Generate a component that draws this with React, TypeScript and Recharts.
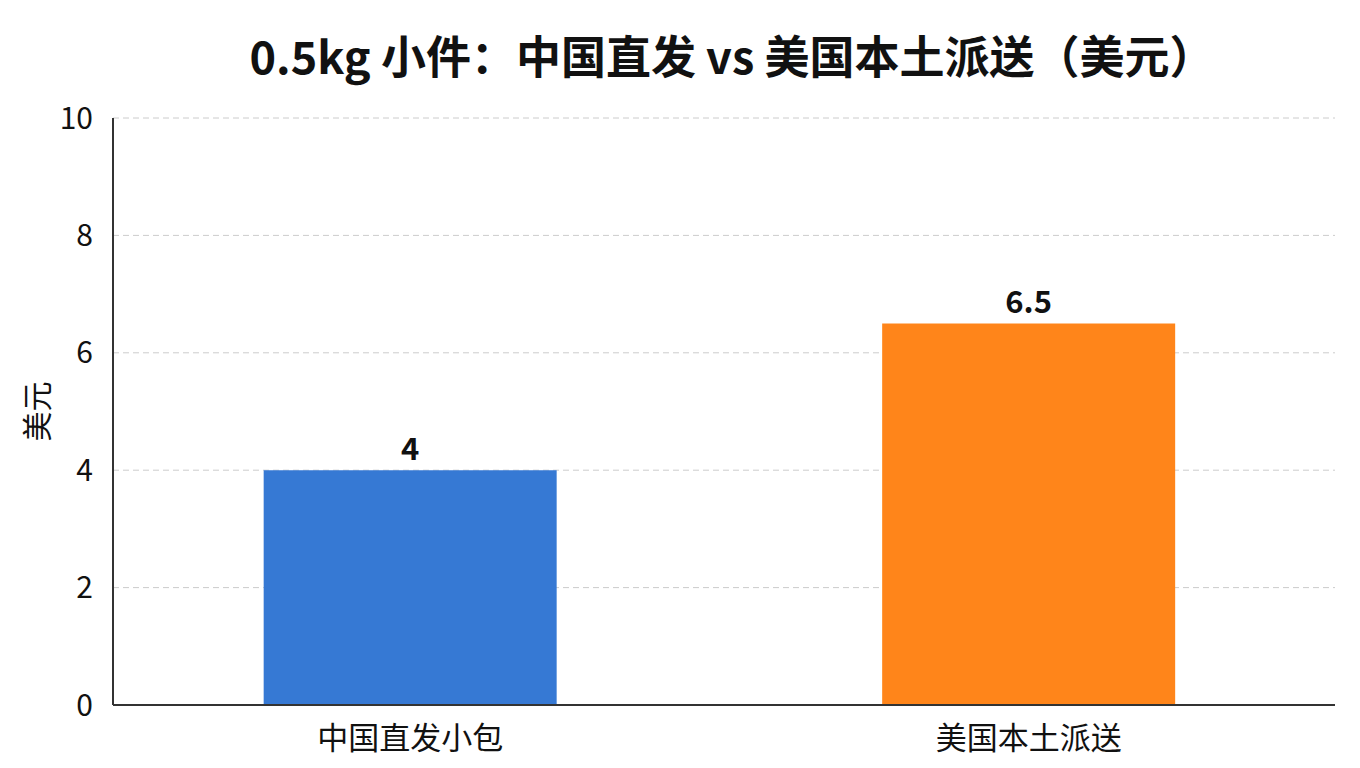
import React from "react";
import { BarChart, Bar, XAxis, YAxis, CartesianGrid, Cell, LabelList } from "recharts";

const categories = ["中国直发小包", "美国本土派送"];
const costs = [4, 6.5];
const barColors = ["#3679D4", "#FF851A"];
const yTicks = [0, 2, 4, 6, 8, 10];
const title = "0.5kg 小件：中国直发 vs 美国本土派送（美元）";
const yLabel = "美元";

const data = categories.map((name, i) => ({ name, value: costs[i] }));

const FONT = '"Noto Sans CJK SC", "Noto Sans", sans-serif';

const YLabel = (props: any) => {
  const vb = props.viewBox || {};
  const cy = (vb.y ?? 118) + (vb.height ?? 587) / 2;
  const cx = 35;
  return (
    <text
      x={cx}
      y={cy}
      transform={`rotate(-90, ${cx}, ${cy})`}
      textAnchor="middle"
      dominantBaseline="central"
      fontSize={30}
      fill="#111"
      fontFamily={FONT}
    >
      {yLabel}
    </text>
  );
};

export default function App() {
  return (
    <div style={{ position: "absolute", left: 0, top: 0, width: 1360, height: 768, background: "#ffffff", fontFamily: FONT }}>
      <div
        style={{
          position: "absolute",
          left: 121,
          width: 1222,
          top: 24,
          textAlign: "center",
          fontSize: 45,
          fontWeight: 700,
          color: "#111",
          lineHeight: "62px",
        }}
      >
        {title}
      </div>
      <BarChart
        width={1360}
        height={768}
        data={data}
        margin={{ top: 118, right: 25, bottom: 0, left: 0 }}
        barCategoryGap="26.3%"
      >
        <CartesianGrid vertical={false} stroke="#cccccc" strokeDasharray="6 4" />
        <XAxis
          dataKey="name"
          height={63}
          padding={{ left: -12, right: -3 }}
          axisLine={{ stroke: "#333", strokeWidth: 2 }}
          tickLine={false}
          tickSize={0}
          tickMargin={22}
          tick={{ fontSize: 31, fill: "#111", fontFamily: FONT }}
        />
        <YAxis
          width={113}
          domain={[0, 10]}
          ticks={yTicks}
          axisLine={{ stroke: "#333", strokeWidth: 2 }}
          tickLine={false}
          tickSize={0}
          tickMargin={20}
          tick={{ fontSize: 30, fill: "#111", fontFamily: FONT }}
          label={<YLabel />}
        />
        <Bar dataKey="value" isAnimationActive={false}>
          {data.map((d, i) => (
            <Cell key={d.name} fill={barColors[i]} />
          ))}
          <LabelList dataKey="value" position="top" offset={10} style={{ fontSize: 31, fontWeight: 700, fill: "#111", fontFamily: FONT }} />
        </Bar>
      </BarChart>
    </div>
  );
}
